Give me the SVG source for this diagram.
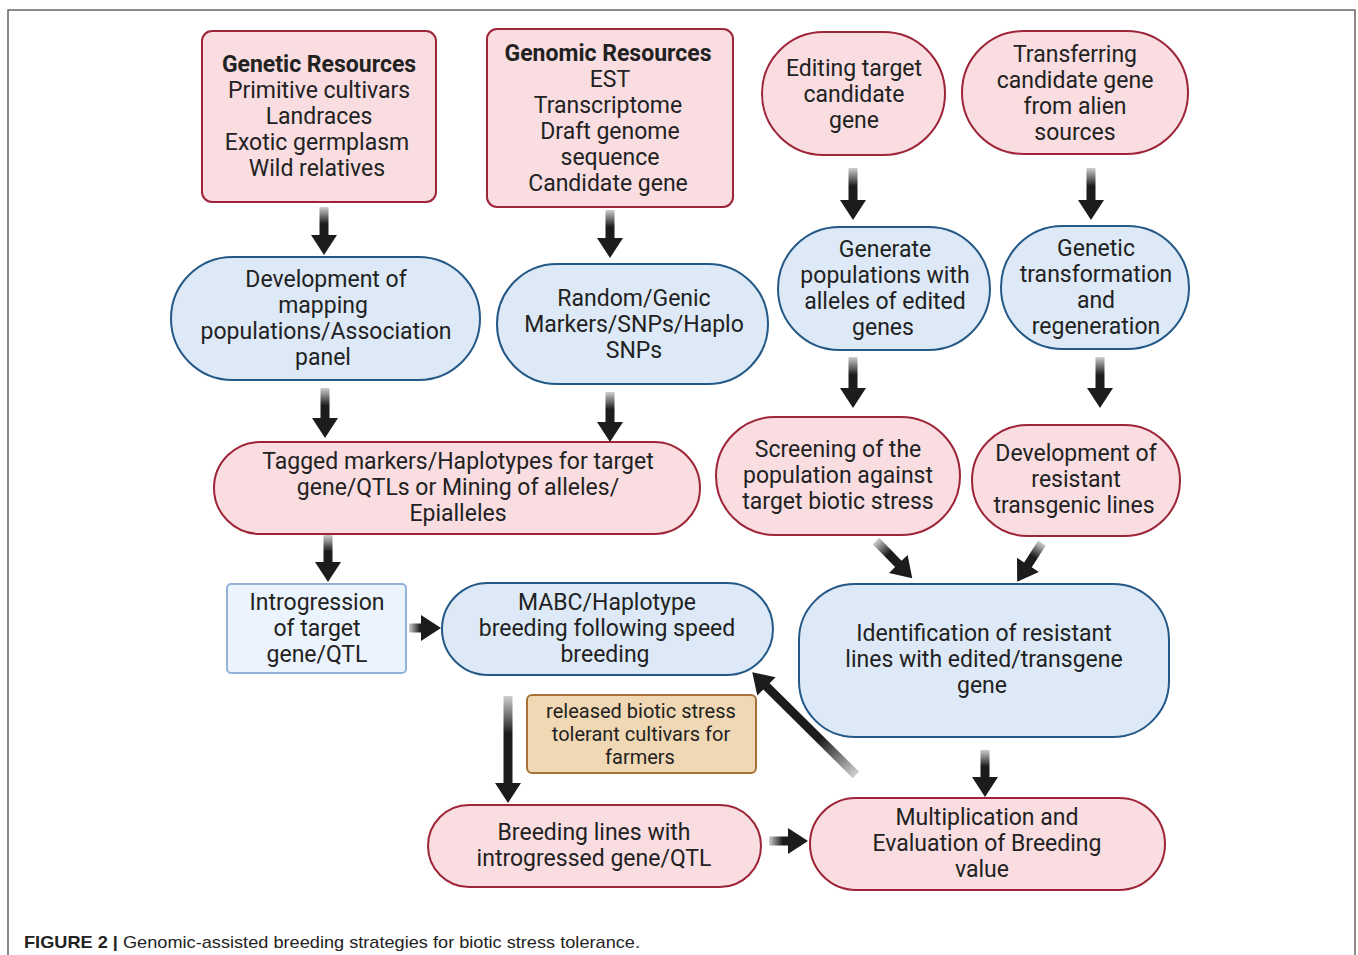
<svg xmlns="http://www.w3.org/2000/svg" width="1358" height="955" viewBox="0 0 1358 955">
<defs>
<linearGradient id="gx" x1="0" y1="0" x2="1" y2="0">
<stop offset="0" stop-color="#cfcfcf"/>
<stop offset="0.35" stop-color="#1c1c1c"/>
<stop offset="1" stop-color="#1c1c1c"/>
</linearGradient>
<style>
.pk{fill:#f9dde1;stroke:#9e2437;stroke-width:2}
.bl{fill:#dde9f7;stroke:#245887;stroke-width:2}
.lb{fill:#ebf3fc;stroke:#93b2da;stroke-width:2}
.tn{fill:#f1d8b4;stroke:#a8713a;stroke-width:2}
.t{font-family:Roboto,"Liberation Sans",sans-serif;font-size:23px;fill:#222;text-anchor:middle}
.b{font-weight:bold}
.s{font-size:20px}
.arr{fill:url(#gx)}
</style>
</defs>
<rect width="1358" height="955" fill="#fff"/>
<path d="M8,960 V10 H1355 V960" fill="none" stroke="#666" stroke-width="1.5"/>

<g id="genetic-resources">
<rect class="pk" x="202" y="31" width="234" height="171" rx="10"/>
<text class="t"><tspan class="b" x="319" y="72">Genetic Resources</tspan><tspan x="319" y="98">Primitive cultivars</tspan><tspan x="319" y="124">Landraces</tspan><tspan x="317" y="150">Exotic germplasm</tspan><tspan x="317" y="176">Wild relatives</tspan></text>
</g>
<g id="genomic-resources">
<rect class="pk" x="487" y="29" width="246" height="178" rx="10"/>
<text class="t"><tspan class="b" x="608" y="61">Genomic Resources</tspan><tspan x="610" y="87">EST</tspan><tspan x="608" y="113">Transcriptome</tspan><tspan x="610" y="139">Draft genome</tspan><tspan x="610" y="165">sequence</tspan><tspan x="608" y="191">Candidate gene</tspan></text>
</g>
<g id="editing">
<rect class="pk" x="762" y="32" width="183" height="123" rx="61.5"/>
<text class="t"><tspan x="854" y="76">Editing target</tspan><tspan x="854" y="102">candidate</tspan><tspan x="854" y="128">gene</tspan></text>
</g>
<g id="transferring">
<rect class="pk" x="962" y="31" width="226" height="123" rx="61.5"/>
<text class="t"><tspan x="1075" y="62">Transferring</tspan><tspan x="1075" y="88">candidate gene</tspan><tspan x="1075" y="114">from alien</tspan><tspan x="1075" y="140">sources</tspan></text>
</g>
<g id="mapping-populations">
<rect class="bl" x="171" y="257" width="309" height="123" rx="61.5"/>
<text class="t"><tspan x="326" y="287">Development of</tspan><tspan x="323" y="313">mapping</tspan><tspan x="326" y="339">populations/Association</tspan><tspan x="323" y="365">panel</tspan></text>
</g>
<g id="markers">
<rect class="bl" x="497" y="264" width="271" height="120" rx="60"/>
<text class="t"><tspan x="634" y="306">Random/Genic</tspan><tspan x="634" y="332">Markers/SNPs/Haplo</tspan><tspan x="634" y="358">SNPs</tspan></text>
</g>
<g id="generate-populations">
<rect class="bl" x="778" y="227" width="212" height="123" rx="61.5"/>
<text class="t"><tspan x="885" y="257">Generate</tspan><tspan x="885" y="283">populations with</tspan><tspan x="885" y="309">alleles of edited</tspan><tspan x="883" y="335">genes</tspan></text>
</g>
<g id="genetic-transformation">
<rect class="bl" x="1001" y="226" width="188" height="123" rx="61.5"/>
<text class="t"><tspan x="1096" y="256">Genetic</tspan><tspan x="1096" y="282">transformation</tspan><tspan x="1096" y="308">and</tspan><tspan x="1096" y="334">regeneration</tspan></text>
</g>
<g id="tagged-markers">
<rect class="pk" x="214" y="442" width="486" height="92" rx="46"/>
<text class="t"><tspan x="458" y="469">Tagged markers/Haplotypes for target</tspan><tspan x="458" y="495">gene/QTLs or Mining of alleles/</tspan><tspan x="458" y="521">Epialleles</tspan></text>
</g>
<g id="screening">
<rect class="pk" x="716" y="417" width="244" height="118" rx="59"/>
<text class="t"><tspan x="838" y="457">Screening of the</tspan><tspan x="838" y="483">population against</tspan><tspan x="838" y="509">target biotic stress</tspan></text>
</g>
<g id="transgenic-lines">
<rect class="pk" x="972" y="425" width="208" height="111" rx="55.5"/>
<text class="t"><tspan x="1076" y="461">Development of</tspan><tspan x="1076" y="487">resistant</tspan><tspan x="1074" y="513">transgenic lines</tspan></text>
</g>
<g id="introgression">
<rect class="lb" x="227" y="584" width="179" height="89" rx="4"/>
<text class="t"><tspan x="317" y="610">Introgression</tspan><tspan x="317" y="636">of target</tspan><tspan x="317" y="662">gene/QTL</tspan></text>
</g>
<g id="mabc">
<rect class="bl" x="442" y="583" width="331" height="92" rx="46"/>
<text class="t"><tspan x="607" y="610">MABC/Haplotype</tspan><tspan x="607" y="636">breeding following speed</tspan><tspan x="605" y="662">breeding</tspan></text>
</g>
<g id="identification">
<rect class="bl" x="799" y="584" width="370" height="153" rx="56"/>
<text class="t"><tspan x="984" y="641">Identification of resistant</tspan><tspan x="984" y="667">lines with edited/transgene</tspan><tspan x="982" y="693">gene</tspan></text>
</g>
<g id="released">
<rect class="tn" x="527" y="695" width="229" height="78" rx="5"/>
<text class="t s"><tspan x="641" y="718">released biotic stress</tspan><tspan x="641" y="741">tolerant cultivars for</tspan><tspan x="640" y="764">farmers</tspan></text>
</g>
<g id="breeding-lines">
<rect class="pk" x="428" y="805" width="333" height="82" rx="41"/>
<text class="t"><tspan x="594" y="840">Breeding lines with</tspan><tspan x="594" y="866">introgressed gene/QTL</tspan></text>
</g>
<g id="multiplication">
<rect class="pk" x="810" y="798" width="355" height="92" rx="46"/>
<text class="t"><tspan x="987" y="825">Multiplication and</tspan><tspan x="987" y="851">Evaluation of Breeding</tspan><tspan x="982" y="877">value</tspan></text>
</g>

<g id="connectors">
<path class="arr" transform="translate(324,207) rotate(90)" d="M0,-4.5 H28 V-13 L48,0 L28,13 V4.5 H0 Z"/>
<path class="arr" transform="translate(610,210) rotate(90)" d="M0,-4.5 H28 V-13 L48,0 L28,13 V4.5 H0 Z"/>
<path class="arr" transform="translate(853,168) rotate(90)" d="M0,-4.5 H32 V-13 L52,0 L32,13 V4.5 H0 Z"/>
<path class="arr" transform="translate(1091,168) rotate(90)" d="M0,-4.5 H32 V-13 L52,0 L32,13 V4.5 H0 Z"/>
<path class="arr" transform="translate(325,388) rotate(90)" d="M0,-4.5 H30 V-13 L50,0 L30,13 V4.5 H0 Z"/>
<path class="arr" transform="translate(610,392) rotate(90)" d="M0,-4.5 H30 V-13 L50,0 L30,13 V4.5 H0 Z"/>
<path class="arr" transform="translate(853,357) rotate(90)" d="M0,-4.5 H31 V-13 L51,0 L31,13 V4.5 H0 Z"/>
<path class="arr" transform="translate(1100,357) rotate(90)" d="M0,-4.5 H31 V-13 L51,0 L31,13 V4.5 H0 Z"/>
<path class="arr" transform="translate(328,535) rotate(90)" d="M0,-4.5 H27 V-13 L47,0 L27,13 V4.5 H0 Z"/>
<path class="arr" transform="translate(876,541) rotate(45.8)" d="M0,-4.5 H32 V-13 L52,0 L32,13 V4.5 H0 Z"/>
<path class="arr" transform="translate(1042,543) rotate(122.7)" d="M0,-4.5 H26 V-13 L46,0 L26,13 V4.5 H0 Z"/>
<path class="arr" transform="translate(409,628)" d="M0,-4.5 H12 V-13 L32,0 L12,13 V4.5 H0 Z"/>
<path class="arr" transform="translate(508,696) rotate(90)" d="M0,-4.5 H87 V-13 L107,0 L87,13 V4.5 H0 Z"/>
<path class="arr" transform="translate(856,775) rotate(224.7)" d="M0,-4.5 H126 V-13 L146,0 L126,13 V4.5 H0 Z"/>
<path class="arr" transform="translate(985,750) rotate(90)" d="M0,-4.5 H27 V-13 L47,0 L27,13 V4.5 H0 Z"/>
<path class="arr" transform="translate(769,841)" d="M0,-4.5 H19 V-13 L39,0 L19,13 V4.5 H0 Z"/>
</g>

<text x="24" y="948" font-family="'Liberation Sans',Arial,sans-serif" font-size="17" fill="#222" textLength="616" lengthAdjust="spacingAndGlyphs"><tspan font-weight="bold">FIGURE 2 |</tspan> Genomic-assisted breeding strategies for biotic stress tolerance.</text>
</svg>
